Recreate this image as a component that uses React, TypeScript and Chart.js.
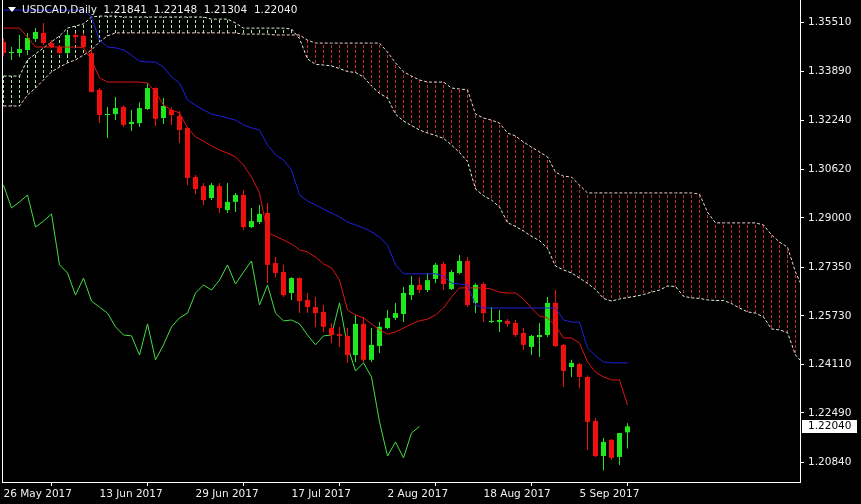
import React, { useEffect, useRef } from 'react';
import { Chart, registerables } from 'chart.js';

Chart.register(...registerables);

const symbolLabel = 'USDCAD,Daily';
const dateTickIndex = [0, 12, 24, 36, 48, 60, 72];
const dateTickLabels = ['26 May 2017', '13 Jun 2017', '29 Jun 2017', '17 Jul 2017', '2 Aug 2017', '18 Aug 2017', '5 Sep 2017'];
const priceTicks = [1.3551, 1.3389, 1.3224, 1.3062, 1.29, 1.2735, 1.2573, 1.2411, 1.2249, 1.2084];
const priceMin = 1.20184;
const priceMax = 1.36268;
const chikouShift = 26;

const opens = [
  1.3487, 1.3450, 1.3450, 1.3460, 1.3497, 1.3517, 1.3483, 1.3470, 1.3450, 1.3510,
  1.3507, 1.3450, 1.3327, 1.3243, 1.3246, 1.3270, 1.3213, 1.3216, 1.3263, 1.3333,
  1.3233, 1.3260, 1.3240, 1.3200, 1.3036, 1.3006, 1.2966, 1.3006, 1.2926, 1.2953,
  1.2976, 1.2869, 1.2886, 1.2916, 1.2749, 1.2719, 1.2649, 1.2699, 1.2626, 1.2602,
  1.2586, 1.2532, 1.2512, 1.2506, 1.2442, 1.2546, 1.2426, 1.2472, 1.2532, 1.2566,
  1.2579, 1.2642, 1.2676, 1.2659, 1.2696, 1.2746, 1.2662, 1.2716, 1.2756, 1.2616,
  1.2679, 1.2552, 1.2552, 1.2556, 1.2549, 1.2516, 1.2469, 1.2502, 1.2509, 1.2616,
  1.2476, 1.2402, 1.2412, 1.2369, 1.2222, 1.2105, 1.2159, 1.2102, 1.21841,
];
const highs = [
  1.3500, 1.3470, 1.3510, 1.3517, 1.3533, 1.3550, 1.3493, 1.3477, 1.3520, 1.3517,
  1.3517, 1.3467, 1.3333, 1.3270, 1.3303, 1.3276, 1.3260, 1.3286, 1.3350, 1.3336,
  1.3300, 1.3270, 1.3256, 1.3203, 1.3043, 1.3016, 1.3016, 1.3016, 1.3016, 1.2983,
  1.2993, 1.2933, 1.2943, 1.2949, 1.2769, 1.2743, 1.2702, 1.2702, 1.2649, 1.2636,
  1.2609, 1.2549, 1.2536, 1.2532, 1.2576, 1.2569, 1.2532, 1.2552, 1.2592, 1.2616,
  1.2669, 1.2706, 1.2702, 1.2716, 1.2749, 1.2753, 1.2726, 1.2776, 1.2769, 1.2682,
  1.2686, 1.2602, 1.2592, 1.2562, 1.2559, 1.2532, 1.2509, 1.2549, 1.2636, 1.2659,
  1.2479, 1.2426, 1.2416, 1.2375, 1.2232, 1.2165, 1.2162, 1.2182, 1.22148,
];
const lows = [
  1.3440, 1.3427, 1.3437, 1.3443, 1.3487, 1.3477, 1.3467, 1.3447, 1.3443, 1.3483,
  1.3467, 1.3317, 1.3216, 1.3166, 1.3226, 1.3203, 1.3190, 1.3203, 1.3260, 1.3206,
  1.3213, 1.3210, 1.3150, 1.3009, 1.2979, 1.2943, 1.2959, 1.2916, 1.2916, 1.2919,
  1.2859, 1.2866, 1.2879, 1.2682, 1.2702, 1.2636, 1.2626, 1.2582, 1.2582, 1.2536,
  1.2519, 1.2482, 1.2469, 1.2416, 1.2419, 1.2416, 1.2419, 1.2449, 1.2529, 1.2559,
  1.2552, 1.2626, 1.2649, 1.2652, 1.2682, 1.2659, 1.2659, 1.2712, 1.2602, 1.2582,
  1.2552, 1.2549, 1.2519, 1.2536, 1.2502, 1.2459, 1.2442, 1.2436, 1.2502, 1.2469,
  1.2335, 1.2369, 1.2332, 1.2125, 1.2102, 1.2058, 1.2092, 1.2075, 1.21304,
];
const closes = [
  1.3450, 1.3453, 1.3463, 1.3500, 1.3520, 1.3483, 1.3470, 1.3450, 1.3510, 1.3503,
  1.3470, 1.3320, 1.3243, 1.3246, 1.3266, 1.3210, 1.3220, 1.3266, 1.3333, 1.3230,
  1.3273, 1.3243, 1.3193, 1.3033, 1.2996, 1.2959, 1.3009, 1.2933, 1.2953, 1.2976,
  1.2869, 1.2889, 1.2913, 1.2743, 1.2716, 1.2642, 1.2699, 1.2622, 1.2602, 1.2582,
  1.2536, 1.2509, 1.2506, 1.2442, 1.2546, 1.2426, 1.2476, 1.2536, 1.2566, 1.2582,
  1.2649, 1.2676, 1.2659, 1.2692, 1.2743, 1.2679, 1.2719, 1.2756, 1.2609, 1.2676,
  1.2582, 1.2556, 1.2559, 1.2546, 1.2509, 1.2476, 1.2506, 1.2509, 1.2616, 1.2472,
  1.2389, 1.2416, 1.2369, 1.2219, 1.2105, 1.2152, 1.2099, 1.2182, 1.22040,
];
const tenkan = [
  1.3533, 1.3533, 1.3533, 1.3503, 1.3470, 1.3470, 1.3470, 1.3470, 1.3470, 1.3470,
  1.3467, 1.3427, 1.3367, 1.3353, 1.3353, 1.3353, 1.3353, 1.3353, 1.3350, 1.3320,
  1.3276, 1.3260, 1.3250, 1.3200, 1.3170, 1.3156, 1.3140, 1.3126, 1.3116, 1.3103,
  1.3076, 1.3036, 1.2983, 1.2849, 1.2839, 1.2826, 1.2813, 1.2793, 1.2786, 1.2769,
  1.2746, 1.2733, 1.2692, 1.2592, 1.2576, 1.2566, 1.2546, 1.2526, 1.2512, 1.2519,
  1.2532, 1.2546, 1.2556, 1.2562, 1.2576, 1.2599, 1.2636, 1.2666, 1.2666, 1.2666,
  1.2666, 1.2662, 1.2652, 1.2649, 1.2649, 1.2629, 1.2599, 1.2572, 1.2566, 1.2539,
  1.2499, 1.2499, 1.2482, 1.2419, 1.2385, 1.2369, 1.2359, 1.2359, 1.2275,
];
const kijun = [
  1.3593, 1.3593, 1.3593, 1.3593, 1.3593, 1.3593, 1.3593, 1.3593, 1.3593, 1.3593,
  1.3593, 1.3570, 1.3493, 1.3470, 1.3467, 1.3460, 1.3443, 1.3423, 1.3420, 1.3420,
  1.3403, 1.3370, 1.3350, 1.3293, 1.3276, 1.3260, 1.3246, 1.3240, 1.3233, 1.3226,
  1.3210, 1.3200, 1.3193, 1.3143, 1.3110, 1.3093, 1.3060, 1.2976, 1.2956, 1.2943,
  1.2929, 1.2916, 1.2903, 1.2886, 1.2876, 1.2866, 1.2853, 1.2836, 1.2809, 1.2743,
  1.2713, 1.2713, 1.2713, 1.2713, 1.2713, 1.2706, 1.2682, 1.2679, 1.2676, 1.2609,
  1.2599, 1.2599, 1.2599, 1.2599, 1.2599, 1.2599, 1.2599, 1.2599, 1.2599, 1.2599,
  1.2559, 1.2552, 1.2552, 1.2466, 1.2439, 1.2419, 1.2416, 1.2416, 1.2416,
];
const spanA = [
  1.3373, 1.3373, 1.3373, 1.3427, 1.3447, 1.3467, 1.3487, 1.3507, 1.3533, 1.3540,
  1.3547, 1.3570, 1.3573, 1.3573, 1.3573, 1.3570, 1.3570, 1.3570, 1.3570, 1.3570,
  1.3570, 1.3570, 1.3570, 1.3570, 1.3570, 1.3570, 1.3563, 1.3563, 1.3563, 1.3550,
  1.3533, 1.3533, 1.3533, 1.3533, 1.3533, 1.3533, 1.3530, 1.3498, 1.3430, 1.3412,
  1.3410, 1.3407, 1.3398, 1.3388, 1.3385, 1.3370, 1.3340, 1.3315, 1.3300, 1.3246,
  1.3223, 1.3208, 1.3193, 1.3183, 1.3175, 1.3165, 1.3143, 1.3118, 1.3088, 1.2996,
  1.2974, 1.2959, 1.2936, 1.2884, 1.2871, 1.2856, 1.2838, 1.2824, 1.2798, 1.2739,
  1.2726, 1.2716, 1.2699, 1.2681, 1.2661, 1.2631, 1.2622, 1.2629, 1.2634, 1.2638,
  1.2644, 1.2652, 1.2659, 1.2672, 1.2671, 1.2638, 1.2633, 1.2631, 1.2626, 1.2624,
  1.2624, 1.2614, 1.2599, 1.2586, 1.2582, 1.2569, 1.2529, 1.2526, 1.2517, 1.2442,
  1.2412,
];
const spanB = [
  1.3273, 1.3273, 1.3273, 1.3310, 1.3333, 1.3360, 1.3387, 1.3403, 1.3417, 1.3427,
  1.3443, 1.3460, 1.3487, 1.3507, 1.3517, 1.3517, 1.3517, 1.3517, 1.3517, 1.3517,
  1.3517, 1.3517, 1.3517, 1.3517, 1.3517, 1.3517, 1.3517, 1.3517, 1.3517, 1.3517,
  1.3513, 1.3513, 1.3513, 1.3513, 1.3510, 1.3510, 1.3510, 1.3510, 1.3493, 1.3483,
  1.3483, 1.3483, 1.3483, 1.3483, 1.3483, 1.3483, 1.3483, 1.3483, 1.3453, 1.3417,
  1.3387, 1.3373, 1.3360, 1.3353, 1.3353, 1.3353, 1.3333, 1.3330, 1.3327, 1.3246,
  1.3233, 1.3226, 1.3216, 1.3183, 1.3173, 1.3153, 1.3136, 1.3120, 1.3103, 1.3052,
  1.3039, 1.3036, 1.3009, 1.2983, 1.2983, 1.2983, 1.2983, 1.2983, 1.2983, 1.2983,
  1.2983, 1.2983, 1.2983, 1.2983, 1.2983, 1.2983, 1.2983, 1.2979, 1.2919, 1.2883,
  1.2883, 1.2883, 1.2883, 1.2883, 1.2883, 1.2876, 1.2843, 1.2819, 1.2802, 1.2719,
  1.2659,
];

const BULL = '#1ee81e';
const BEAR = '#f01010';
const FONT = { family: 'DejaVu Sans', size: 10.5 };

function hatchBars(bullish: boolean) {
  const pts: any[] = [];
  spanA.forEach((a, i) => {
    const b = spanB[i];
    if ((a >= b) === bullish) pts.push({ x: i, y: [Math.min(a, b), Math.max(a, b)] });
  });
  return pts;
}

function dashPattern(color: string) {
  const c = document.createElement('canvas');
  c.width = 1;
  c.height = 5;
  const g = c.getContext('2d')!;
  g.fillStyle = color;
  g.fillRect(0, 0, 1, 3);
  return g.createPattern(c, 'repeat');
}

const overlayPlugin = {
  id: 'mtOverlay',
  afterDraw(chart: any) {
    const { ctx, chartArea: a, scales } = chart;
    ctx.save();
    ctx.strokeStyle = '#ffffff';
    ctx.lineWidth = 1;
    ctx.setLineDash([]);
    ctx.beginPath();
    ctx.moveTo(a.left + 0.5, a.top);
    ctx.lineTo(a.left + 0.5, a.bottom);
    ctx.stroke();

    const n = closes.length - 1;
    ctx.fillStyle = '#ffffff';
    ctx.beginPath();
    ctx.moveTo(8, 7);
    ctx.lineTo(16, 7);
    ctx.lineTo(12, 12);
    ctx.closePath();
    ctx.fill();
    ctx.font = `${FONT.size}px "${FONT.family}"`;
    ctx.textBaseline = 'middle';
    ctx.textAlign = 'left';
    ctx.fillStyle = '#f0f0f0';
    const header = `${symbolLabel}  ${opens[n].toFixed(5)}  ${highs[n].toFixed(5)}  ${lows[n].toFixed(5)}  ${closes[n].toFixed(5)}`;
    ctx.fillText(header, 22, 10);

    const y = scales.y.getPixelForValue(closes[n]);
    ctx.fillStyle = '#ffffff';
    ctx.fillRect(a.right + 2, Math.round(y) - 6, 55, 13);
    ctx.fillStyle = '#000000';
    ctx.fillText(closes[n].toFixed(5), a.right + 8, Math.round(y) + 0.5);
    ctx.restore();
  },
};

export default function App() {
  const ref = useRef<HTMLCanvasElement | null>(null);

  useEffect(() => {
    if (!ref.current) return;
    const candleColors = closes.map((c, i) => (c >= opens[i] ? BULL : BEAR));
    const line = (data: any[], color: string, order: number, dash: number[] = []) => ({
      type: 'line',
      data,
      borderColor: color,
      backgroundColor: color,
      borderWidth: 1,
      borderDash: dash,
      pointRadius: 0,
      pointHoverRadius: 0,
      tension: 0,
      fill: false,
      spanGaps: false,
      order,
    });
    const hatch = (bullish: boolean, color: string) => ({
      type: 'bar',
      data: hatchBars(bullish),
      backgroundColor: dashPattern(color),
      borderWidth: 0,
      barThickness: 1,
      grouped: false,
      inflateAmount: 0,
      order: 9,
    });

    const chart = new Chart(ref.current, {
      type: 'line',
      data: {
        datasets: [
          hatch(true, '#a8eea0') as any,
          hatch(false, '#c83030') as any,
          line(spanA.map((v, i) => ({ x: i, y: v })), '#e0f0d8', 8, [3, 2]) as any,
          line(spanB.map((v, i) => ({ x: i, y: v })), '#f4d0d0', 8, [3, 2]) as any,
          line(closes.slice(chikouShift).map((v, i) => ({ x: i, y: v })), '#44dd44', 7) as any,
          {
            type: 'bar',
            data: lows.map((l, i) => ({ x: i, y: [l, highs[i]] })),
            backgroundColor: candleColors,
            borderWidth: 0,
            barThickness: 1,
            grouped: false,
            inflateAmount: 0,
            order: 5,
          } as any,
          {
            type: 'bar',
            data: opens.map((o, i) => ({ x: i, y: [o, closes[i]] })),
            backgroundColor: candleColors,
            borderWidth: 0,
            barThickness: 5,
            minBarLength: 1,
            grouped: false,
            inflateAmount: 0,
            order: 4,
          } as any,
          line(tenkan.map((v, i) => ({ x: i, y: v })), '#e01414', 2) as any,
          line(kijun.map((v, i) => ({ x: i, y: v })), '#2020e0', 1) as any,
        ],
      },
      options: {
        animation: false,
        responsive: false,
        devicePixelRatio: 1,
        layout: { padding: { left: 2, top: 0, right: 0, bottom: 0 } },
        plugins: { legend: { display: false }, tooltip: { enabled: false }, title: { display: false }, colors: { enabled: false } },
        scales: {
          x: {
            type: 'linear',
            min: -0.1875,
            max: 99.5625,
            offset: false,
            afterBuildTicks: (s: any) => {
              s.ticks = dateTickIndex.map((v) => ({ value: v }));
            },
            afterFit: (s: any) => {
              s.height = 22;
              s.paddingLeft = 0;
              s.paddingRight = 0;
            },
            ticks: {
              autoSkip: false,
              maxRotation: 0,
              minRotation: 0,
              align: 'start',
              color: '#f0f0f0',
              font: FONT,
              padding: 2,
              callback: (v: any) => {
                const k = dateTickIndex.indexOf(Number(v));
                return k >= 0 ? dateTickLabels[k] : '';
              },
            },
            grid: { display: true, drawOnChartArea: false, drawTicks: true, tickLength: 4, color: '#ffffff' },
            border: { display: true, color: '#ffffff', width: 1 },
          },
          y: {
            type: 'linear',
            position: 'right',
            min: priceMin,
            max: priceMax,
            afterBuildTicks: (s: any) => {
              s.ticks = priceTicks.map((v) => ({ value: v }));
            },
            afterFit: (s: any) => {
              s.width = 61;
              s.paddingTop = 0;
              s.paddingBottom = 0;
            },
            ticks: {
              color: '#f0f0f0',
              font: FONT,
              padding: 4,
              callback: (v: any) => Number(v).toFixed(5),
            },
            grid: { display: true, drawOnChartArea: false, drawTicks: true, tickLength: 4, color: '#ffffff' },
            border: { display: true, color: '#ffffff', width: 1 },
          },
        },
      } as any,
      plugins: [overlayPlugin],
    });
    return () => chart.destroy();
  }, []);

  return (
    <div style={{ position: 'fixed', left: 0, top: 0, width: 861, height: 504, background: '#000' }}>
      <canvas ref={ref} width={861} height={504} style={{ display: 'block', width: 861, height: 504 }} />
    </div>
  );
}
